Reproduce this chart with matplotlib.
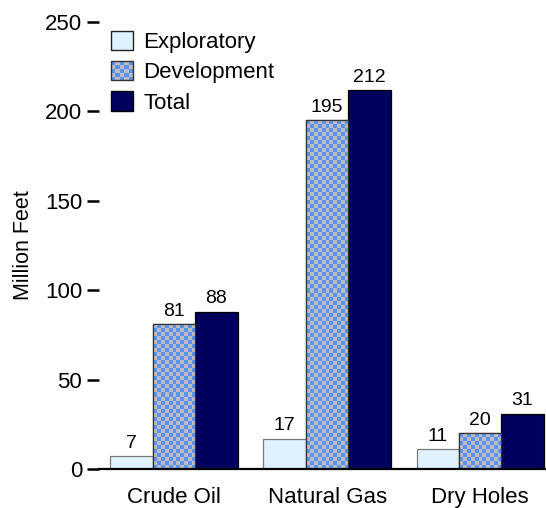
import numpy as np
import matplotlib.pyplot as plt
from matplotlib.patches import Rectangle, Patch
from matplotlib.legend_handler import HandlerBase

plt.rcParams['font.family'] = ['Liberation Sans', 'DejaVu Sans']

categories = ['Crude Oil', 'Natural Gas', 'Dry Holes']
exploratory = [7, 17, 11]
development = [81, 195, 20]
total = [88, 212, 31]

LIGHT = '#dff0ff'
CHECK_BLUE = '#5b93f0'
CHECK_GRAY = '#bcbcc0'
NAVY = '#00005f'


class CheckerHandler(HandlerBase):
    """Legend key drawn as a small checkerboard."""
    def create_artists(self, legend, orig_handle, xdescent, ydescent,
                       width, height, fontsize, trans):
        n = 5
        cw, ch = width / n, height / n
        arts = []
        for i in range(n):
            for j in range(n):
                c = CHECK_BLUE if (i + j) % 2 == 0 else CHECK_GRAY
                arts.append(Rectangle((-xdescent + i * cw, -ydescent + j * ch),
                                      cw, ch, facecolor=c, edgecolor='none',
                                      transform=trans))
        arts.append(Rectangle((-xdescent, -ydescent), width, height,
                              facecolor='none', edgecolor='#333333',
                              linewidth=1.0, transform=trans))
        return arts


fig = plt.figure(figsize=(5.46, 5.08), dpi=100)
ax = fig.add_axes([99 / 546, 1 - 469 / 508, 447 / 546, 447 / 508])

x = np.arange(len(categories))
w = 0.277

b1 = ax.bar(x - w, exploratory, w, color=LIGHT, edgecolor='#7a7a7a', linewidth=0.9)
b2 = ax.bar(x, development, w, color=CHECK_GRAY, edgecolor='#333333', linewidth=0.9)
b3 = ax.bar(x + w, total, w, color=NAVY, edgecolor='black', linewidth=0.9)

ax.set_xlim(-0.49, 2.43)
ax.set_ylim(0, 250)

# checkerboard fill for the development bars, about 4 px per cell
fig.canvas.draw()
for bar in b2:
    x0, y0 = bar.get_x(), bar.get_y()
    bw, bh = bar.get_width(), bar.get_height()
    p0 = ax.transData.transform((x0, y0))
    p1 = ax.transData.transform((x0 + bw, y0 + bh))
    ncol = max(1, int(round((p1[0] - p0[0]) / 4)))
    nrow = max(1, int(round((p1[1] - p0[1]) / 4)))
    checker = (np.add.outer(np.arange(nrow), np.arange(ncol)) % 2).astype(float)
    im = ax.imshow(checker, extent=(x0, x0 + bw, y0, y0 + bh), origin='lower',
                   cmap=plt.matplotlib.colors.ListedColormap([CHECK_BLUE, CHECK_GRAY]),
                   interpolation='nearest', aspect='auto', zorder=bar.get_zorder() + 0.1)
    im.set_clip_path(bar)
    edge = Rectangle((x0, y0), bw, bh, facecolor='none', edgecolor='#333333',
                     linewidth=0.9, zorder=bar.get_zorder() + 0.2)
    ax.add_patch(edge)

ax.set_xlim(-0.49, 2.43)
ax.set_ylim(0, 250)

for bars, vals in ((b1, exploratory), (b2, development), (b3, total)):
    for bar, v in zip(bars, vals):
        ax.annotate(str(v), (bar.get_x() + bar.get_width() / 2, v),
                    xytext=(0, 3), textcoords='offset points',
                    ha='center', va='bottom', fontsize=14)

ax.set_xticks(x)
ax.set_xticklabels(categories, fontsize=16)
ax.set_yticks([0, 50, 100, 150, 200, 250])
ax.tick_params(axis='y', length=8.6, width=1.8, pad=3.5, labelsize=16)
ax.tick_params(axis='x', length=0, pad=13)
ax.set_ylabel('Million Feet', fontsize=15.5, labelpad=8)

for s in ('top', 'right', 'left'):
    ax.spines[s].set_visible(False)
ax.spines['bottom'].set_linewidth(1.6)

handles = [Patch(facecolor=LIGHT, edgecolor='#222222', linewidth=1.0),
           Patch(facecolor=CHECK_GRAY),
           Patch(facecolor=NAVY, edgecolor='black', linewidth=1.0)]
ax.legend(handles, ['Exploratory', 'Development', 'Total'],
          handler_map={handles[1]: CheckerHandler()},
          loc='upper left', bbox_to_anchor=(12 / 447, 1 - 9 / 447),
          frameon=False, fontsize=16, borderpad=0, borderaxespad=0,
          handlelength=1.0, handleheight=0.95, handletextpad=0.45,
          labelspacing=0.36)

fig.savefig('out.png', dpi=100)
